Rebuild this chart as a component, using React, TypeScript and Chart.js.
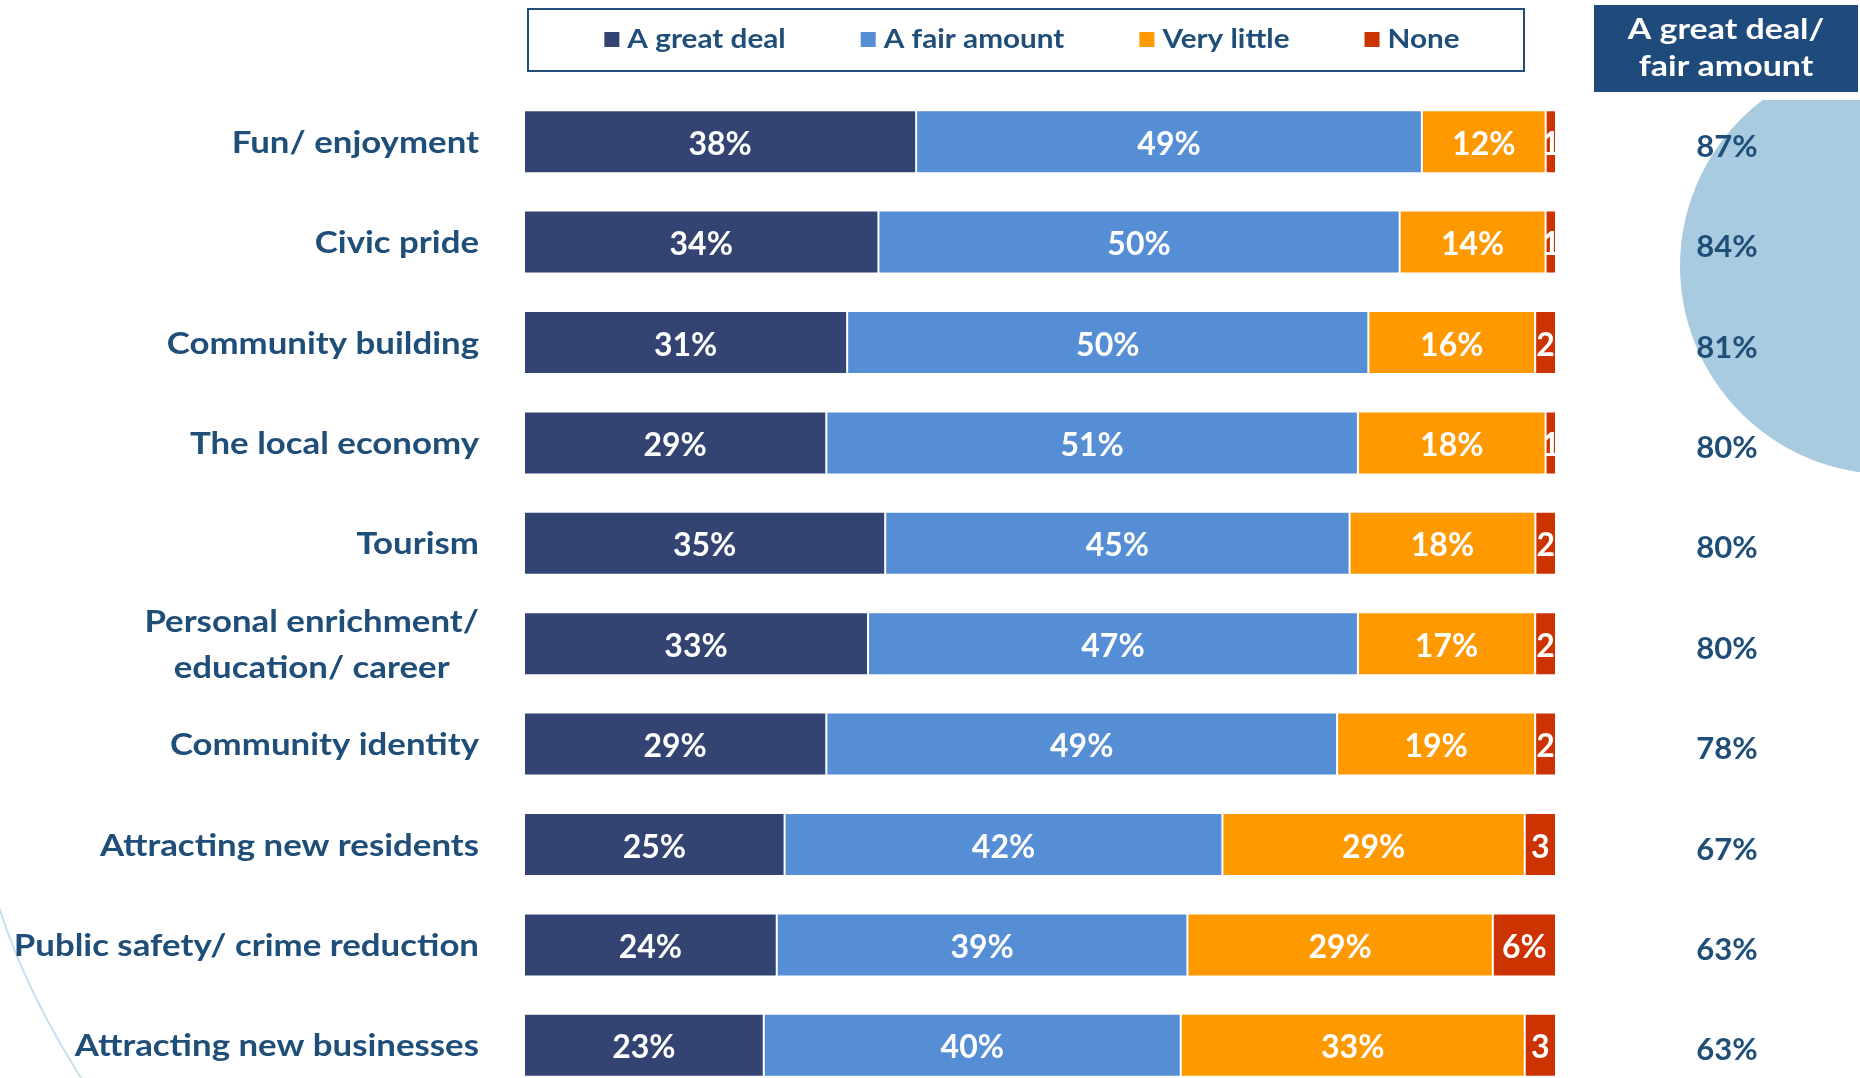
import React, { useEffect, useRef } from "react";
import { Chart, registerables } from "chart.js";

Chart.register(...registerables);

// ---- data ----
const categories: (string | string[])[] = [
  "Fun/ enjoyment",
  "Civic pride",
  "Community building",
  "The local economy",
  "Tourism",
  ["Personal enrichment/", "education/ career"],
  "Community identity",
  "Attracting new residents",
  "Public safety/ crime reduction",
  "Attracting new businesses",
];
const seriesNames = ["A great deal", "A fair amount", "Very little", "None"];
const greatDeal = [38, 34, 31, 29, 35, 33, 29, 25, 24, 23];
const fairAmount = [49, 50, 50, 51, 45, 47, 49, 42, 39, 40];
const veryLittle = [12, 14, 16, 18, 18, 17, 19, 29, 29, 33];
const none = [1, 1, 2, 1, 2, 2, 2, 3, 6, 3];
const greatOrFair = [87, 84, 81, 80, 80, 80, 78, 67, 63, 63];
const headerLines = ["A great deal/", "fair amount"];

// ---- styles ----
const seriesColors = ["#334473", "#558ED5", "#FF9900", "#CC3300"];
const FONT = "Lato, 'Open Sans', sans-serif";
const TEXT_BLUE = "#1F4E79";
const CANVAS_W = 1860;
const CANVAS_H = 1100;
const LETTER_STRETCH = 1.16;

function drawText(
  ctx: CanvasRenderingContext2D,
  text: string,
  x: number,
  y: number,
  align: CanvasTextAlign,
  sx: number
) {
  ctx.save();
  ctx.translate(x, y);
  ctx.scale(sx, 1);
  ctx.textAlign = align;
  ctx.textBaseline = "alphabetic";
  ctx.fillText(text, 0, 0);
  ctx.restore();
}

export default function App() {
  const ref = useRef<HTMLCanvasElement>(null);

  useEffect(() => {
    if (!ref.current) return;
    const raw = [greatDeal, fairAmount, veryLittle, none];
    const totals = categories.map((_, i) => raw.reduce((s, a) => s + a[i], 0));

    const datasets = raw.map((arr, k) => ({
      label: seriesNames[k],
      data: arr.map((v, i) => (v / totals[i]) * 100),
      rawValues: arr,
      backgroundColor: seriesColors[k],
      borderColor: "#FFFFFF",
      borderWidth: 1,
      borderSkipped: false,
      categoryPercentage: 1,
      barPercentage: 0.627,
    }));

    const backgroundPlugin = {
      id: "decor",
      beforeDraw(chart: any) {
        const ctx = chart.ctx;
        ctx.save();
        ctx.beginPath();
        ctx.rect(0, 100, CANVAS_W, CANVAS_H);
        ctx.clip();
        ctx.fillStyle = "#A9CBDF";
        ctx.beginPath();
        ctx.arc(1888, 266, 208, 0, Math.PI * 2);
        ctx.fill();
        ctx.restore();
        ctx.save();
        ctx.strokeStyle = "#C6E0EC";
        ctx.lineWidth = 2;
        ctx.beginPath();
        ctx.moveTo(-2, 904);
        ctx.quadraticCurveTo(26, 994, 90, 1092);
        ctx.stroke();
        ctx.restore();
      },
    };

    const overlayPlugin = {
      id: "overlay",
      afterDatasetsDraw(chart: any) {
        const ctx = chart.ctx;
        chart.data.datasets.forEach((ds: any, di: number) => {
          const meta = chart.getDatasetMeta(di);
          meta.data.forEach((bar: any, i: number) => {
            const p = bar.getProps(["x", "y", "base", "height"], true);
            const left = Math.min(p.x, p.base);
            const right = Math.max(p.x, p.base);
            const v = ds.rawValues[i];
            const text = di === 3 && v < 5 ? String(v) : v + "%";
            ctx.save();
            ctx.beginPath();
            ctx.rect(left, p.y - p.height / 2, right - left, p.height);
            ctx.clip();
            ctx.fillStyle = "#FFFFFF";
            ctx.font = `bold 32px ${FONT}`;
            ctx.textAlign = "center";
            ctx.textBaseline = "alphabetic";
            ctx.fillText(text, (left + right) / 2, p.y + 13);
            ctx.restore();
          });
        });
      },
      afterDraw(chart: any) {
        const ctx = chart.ctx;
        const yScale = chart.scales.y;
        ctx.save();
        // category labels
        ctx.fillStyle = TEXT_BLUE;
        ctx.font = `bold 30px ${FONT}`;
        categories.forEach((lab, i) => {
          const yc = yScale.getPixelForValue(i);
          if (Array.isArray(lab)) {
            const maxW = Math.max(
              ...lab.map((l) => ctx.measureText(l).width * LETTER_STRETCH)
            );
            const cx = 479 - maxW / 2;
            const lh = 46;
            const startY = yc + 11 - (lh * (lab.length - 1)) / 2;
            lab.forEach((l, k) =>
              drawText(ctx, l, cx, startY + k * lh, "center", LETTER_STRETCH)
            );
          } else {
            drawText(ctx, lab, 479, yc + 11, "right", LETTER_STRETCH);
          }
        });

        // right column values
        ctx.font = `bold 31px ${FONT}`;
        greatOrFair.forEach((v, i) => {
          const yc = yScale.getPixelForValue(i);
          drawText(ctx, v + "%", 1727, yc + 15, "center", 1);
        });

        // right header box
        ctx.fillStyle = "#1F4A7C";
        ctx.fillRect(1594, 5, 264, 87);
        ctx.fillStyle = "#FFFFFF";
        ctx.font = `bold 29px ${FONT}`;
        drawText(ctx, headerLines[0], 1726, 39, "center", 1.17);
        drawText(ctx, headerLines[1], 1726, 76, "center", 1.17);

        // legend
        ctx.strokeStyle = TEXT_BLUE;
        ctx.lineWidth = 2;
        ctx.strokeRect(528, 9, 996, 62);
        ctx.font = `bold 27px ${FONT}`;
        const legStretch = 1.1;
        const items = chart.data.datasets.map((d: any) => ({
          text: d.label,
          color: d.backgroundColor,
          w: ctx.measureText(d.label).width * legStretch,
        }));
        const box = 15;
        const gapBT = 8;
        const gapItems = 75;
        const total =
          items.reduce((s: number, it: any) => s + box + gapBT + it.w, 0) +
          gapItems * (items.length - 1);
        let x = 1032 - total / 2;
        items.forEach((it: any) => {
          ctx.fillStyle = it.color;
          ctx.fillRect(x, 32, box, box);
          x += box + gapBT;
          ctx.fillStyle = TEXT_BLUE;
          drawText(ctx, it.text, x, 48, "left", legStretch);
          x += it.w + gapItems;
        });
        ctx.restore();
      },
    };

    const chart = new Chart(ref.current, {
      type: "bar",
      data: {
        labels: categories.map((c) => (Array.isArray(c) ? c.join(" ") : c)),
        datasets: datasets as any,
      },
      options: {
        indexAxis: "y",
        responsive: false,
        animation: false,
        events: [],
        layout: { padding: { left: 524, right: 304, top: 91.5, bottom: 4.5 } },
        plugins: { legend: { display: false }, tooltip: { enabled: false } },
        scales: {
          x: { stacked: true, min: 0, max: 100, display: false },
          y: { stacked: true, display: false },
        },
      },
      plugins: [backgroundPlugin, overlayPlugin],
    });
    return () => chart.destroy();
  }, []);

  return (
    <div
      style={{
        position: "fixed",
        left: 0,
        top: 0,
        width: 1860,
        height: 1078,
        overflow: "hidden",
        background: "#FFFFFF",
      }}
    >
      <canvas
        ref={ref}
        width={CANVAS_W}
        height={CANVAS_H}
        style={{ width: CANVAS_W, height: CANVAS_H, display: "block" }}
      />
    </div>
  );
}
